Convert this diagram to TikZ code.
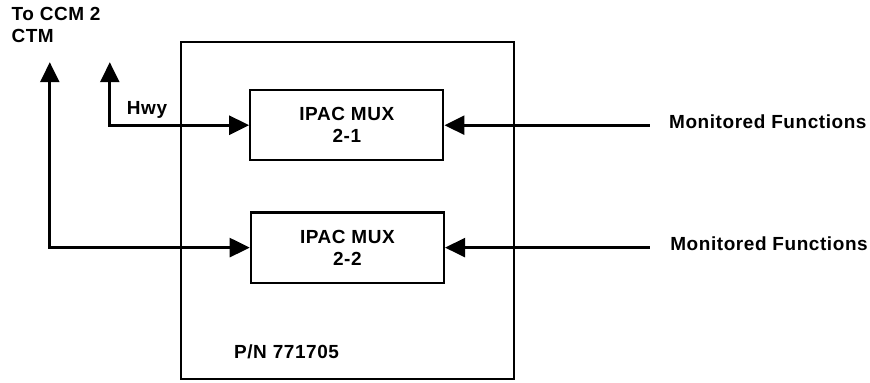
\documentclass[tikz,border=0pt]{standalone}
\usepackage{fontspec}
\setmainfont{Liberation Sans}[LetterSpace=3]
\usetikzlibrary{arrows.meta}

\newcommand{\lblfont}{\bfseries\fontsize{9}{10.5}\selectfont}

\begin{document}
\begin{tikzpicture}[line width=1.3pt, >={Triangle[length=9.5pt,width=9pt]}]
  \useasboundingbox (0,0) rectangle (14.5,6.367);
  \tikzset{mux/.style={draw, line width=1pt, minimum width=3.22cm, minimum height=1.17cm,
      align=center, font=\lblfont},
    lbl/.style={font=\lblfont, inner sep=0pt}}
  % outer unit
  \draw[line width=1pt] (3.02,0.05) rectangle (8.57,5.67);
  \node[lbl, anchor=west] (pn) at (3.88,0.5) {P/N 771705};
  % the two multiplexers
  \node[mux] (mux1) at (5.78,4.28) {IPAC MUX\\2-1};
  \node[mux] (mux2) at (5.79,2.24) {IPAC MUX\\2-2};
  % to CCM 2 CTM
  \node[lbl, anchor=north west, align=left] (ccm) at (0.17,6.27) {To CCM 2\\CTM};
  \coordinate (hwy) at (1.83,5.33);
  \coordinate (ctm) at (0.83,5.33);
  \draw[<->] (hwy) |- (mux1.west);
  \draw[<->] (ctm) |- (mux2.west);
  \node[lbl] (hwylbl) at (2.45,4.53) {Hwy};
  % monitored functions
  \node[lbl, anchor=west] (mf1) at (11.13,4.34) {Monitored Functions};
  \node[lbl, anchor=west] (mf2) at (11.15,2.3) {Monitored Functions};
  \coordinate (in1) at (10.83,4.28);
  \coordinate (in2) at (10.83,2.24);
  \draw[->] (in1) -- (mux1.east);
  \draw[->] (in2) -- (mux2.east);
\end{tikzpicture}
\end{document}
